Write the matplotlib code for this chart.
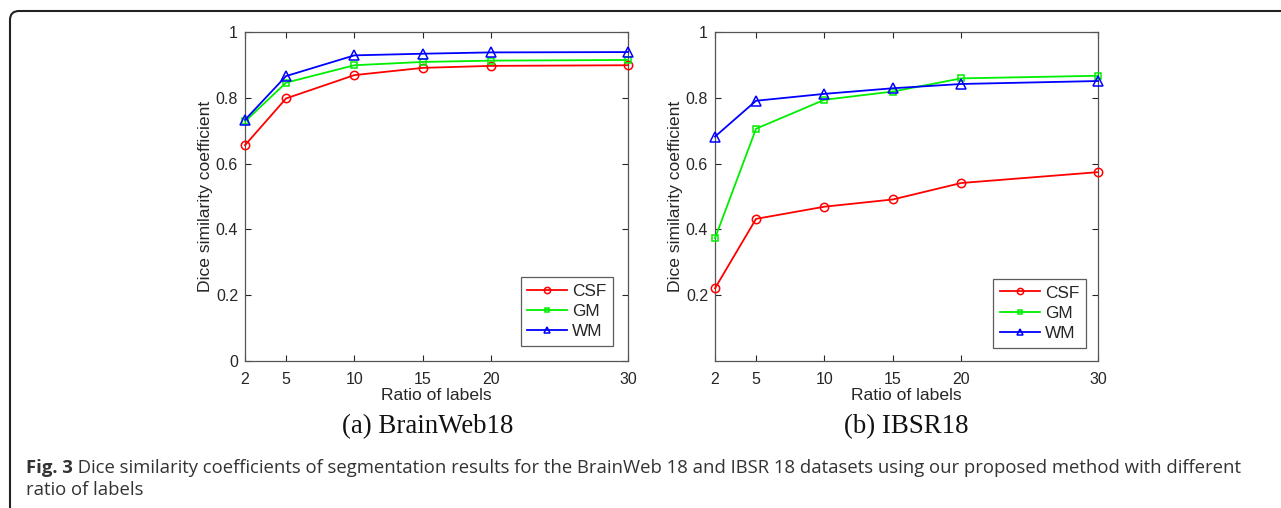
import matplotlib
matplotlib.use("Agg")
import matplotlib.pyplot as plt
from matplotlib.patches import FancyBboxPatch
from matplotlib.transforms import IdentityTransform

ratios = [2, 5, 10, 15, 20, 30]
xtick_labels = ["2", "5", "10", "15", "20", "30"]

bw_csf = [0.656, 0.798, 0.869, 0.891, 0.897, 0.899]
bw_gm = [0.728, 0.846, 0.899, 0.909, 0.913, 0.915]
bw_wm = [0.733, 0.866, 0.929, 0.934, 0.938, 0.939]

ibsr_csf = [0.221, 0.432, 0.469, 0.491, 0.541, 0.574]
ibsr_gm = [0.373, 0.706, 0.794, 0.819, 0.859, 0.867]
ibsr_wm = [0.682, 0.791, 0.812, 0.829, 0.842, 0.851]

series_names = ["CSF", "GM", "WM"]
subtitles = ["(a) BrainWeb18", "(b) IBSR18"]
xlabel = "Ratio of labels"
ylabel = "Dice similarity coefficient"
caption_bold = "Fig. 3"
caption_line1 = "Dice similarity coefficients of segmentation results for the BrainWeb 18 and IBSR 18 datasets using our proposed method with different"
caption_line2 = "ratio of labels"

W, H = 1281, 508
fig = plt.figure(figsize=(W / 100, H / 100), dpi=100)

colors = ["#ff0000", "#00ee00", "#0000ff"]
markers = ["o", "s", "^"]
msizes = [6, 4.5, 6.5]
axcol = "#262626"

def make_axes(left_px, data, yticks, subtitle, sub_x_offset, leg_anchor):
    ax = fig.add_axes([left_px / W, 1 - 361 / H, 383 / W, 329 / H])
    for vals, c, m, ms, name in zip(data, colors, markers, msizes, series_names):
        ax.plot(ratios, vals, color=c, marker=m, markersize=ms,
                markerfacecolor="none", markeredgecolor=c, markeredgewidth=1.1,
                linewidth=1.3, label=name, clip_on=False, zorder=3)
    ax.set_xlim(2, 30)
    ax.set_ylim(0, 1)
    ax.set_xticks(ratios)
    ax.set_xticklabels(xtick_labels)
    ax.set_yticks(yticks)
    ax.set_yticklabels([("%g" % t) for t in yticks])
    ax.tick_params(direction="in", top=True, right=True, length=4, width=0.8,
                   colors=axcol, labelsize=11.5)
    ax.tick_params(axis="x", pad=8)
    ax.tick_params(axis="y", pad=5)
    for lab in ax.get_xticklabels() + ax.get_yticklabels():
        lab.set_fontfamily("Liberation Sans")
    for s in ax.spines.values():
        s.set_color("#555555")
        s.set_linewidth(0.9)
    ax.set_xlabel(xlabel, fontsize=12.6, family="Liberation Sans", color=axcol, labelpad=1)
    ax.set_ylabel(ylabel, fontsize=12.6, family="Liberation Sans", color=axcol, labelpad=2)
    leg = ax.legend(loc="lower right", bbox_to_anchor=leg_anchor, borderaxespad=0,
                    prop={"family": "Liberation Sans", "size": 12.4},
                    frameon=True, fancybox=False, edgecolor="#333333",
                    handlelength=2.3, borderpad=0.4, labelspacing=0.3,
                    handletextpad=0.3, markerscale=0.75)
    leg.get_frame().set_linewidth(0.9)
    for t in leg.get_texts():
        t.set_color(axcol)
    fig.text((left_px + 191 + sub_x_offset) / W, 1 - 427 / H, subtitle,
             ha="center", va="center", fontsize=19.4, family="Liberation Serif",
             color="#111111")
    return ax

make_axes(245, [bw_csf, bw_gm, bw_wm], [0, 0.2, 0.4, 0.6, 0.8, 1.0],
          subtitles[0], -8, (0.962, 0.045))
make_axes(715, [ibsr_csf, ibsr_gm, ibsr_wm], [0.2, 0.4, 0.6, 0.8, 1.0],
          subtitles[1], 0, (0.969, 0.04))

# frame (top + left borders with rounded corner)
frame = FancyBboxPatch((10, -40), 1400, H - 11 + 40,
                       boxstyle="round,pad=0,rounding_size=9",
                       transform=IdentityTransform(), facecolor="none",
                       edgecolor="#222222", linewidth=1.5)
fig.patches.append(frame)

cap_col = "#333333"
cap_size = 13.3
t1 = fig.text(26 / W, 1 - 473 / H, caption_bold, fontsize=cap_size, family="Open Sans",
              weight="bold", color=cap_col, va="baseline", ha="left")
fig.add_artist(plt.Annotation(" " + caption_line1, xy=(1, 0), xycoords=t1,
                              fontsize=cap_size, family="Open Sans", color=cap_col,
                              va="bottom", ha="left"))
fig.text(26 / W, 1 - 495 / H, caption_line2, fontsize=cap_size, family="Open Sans",
         color=cap_col, va="baseline", ha="left")

fig.savefig("out.png", dpi=100, facecolor="white")
